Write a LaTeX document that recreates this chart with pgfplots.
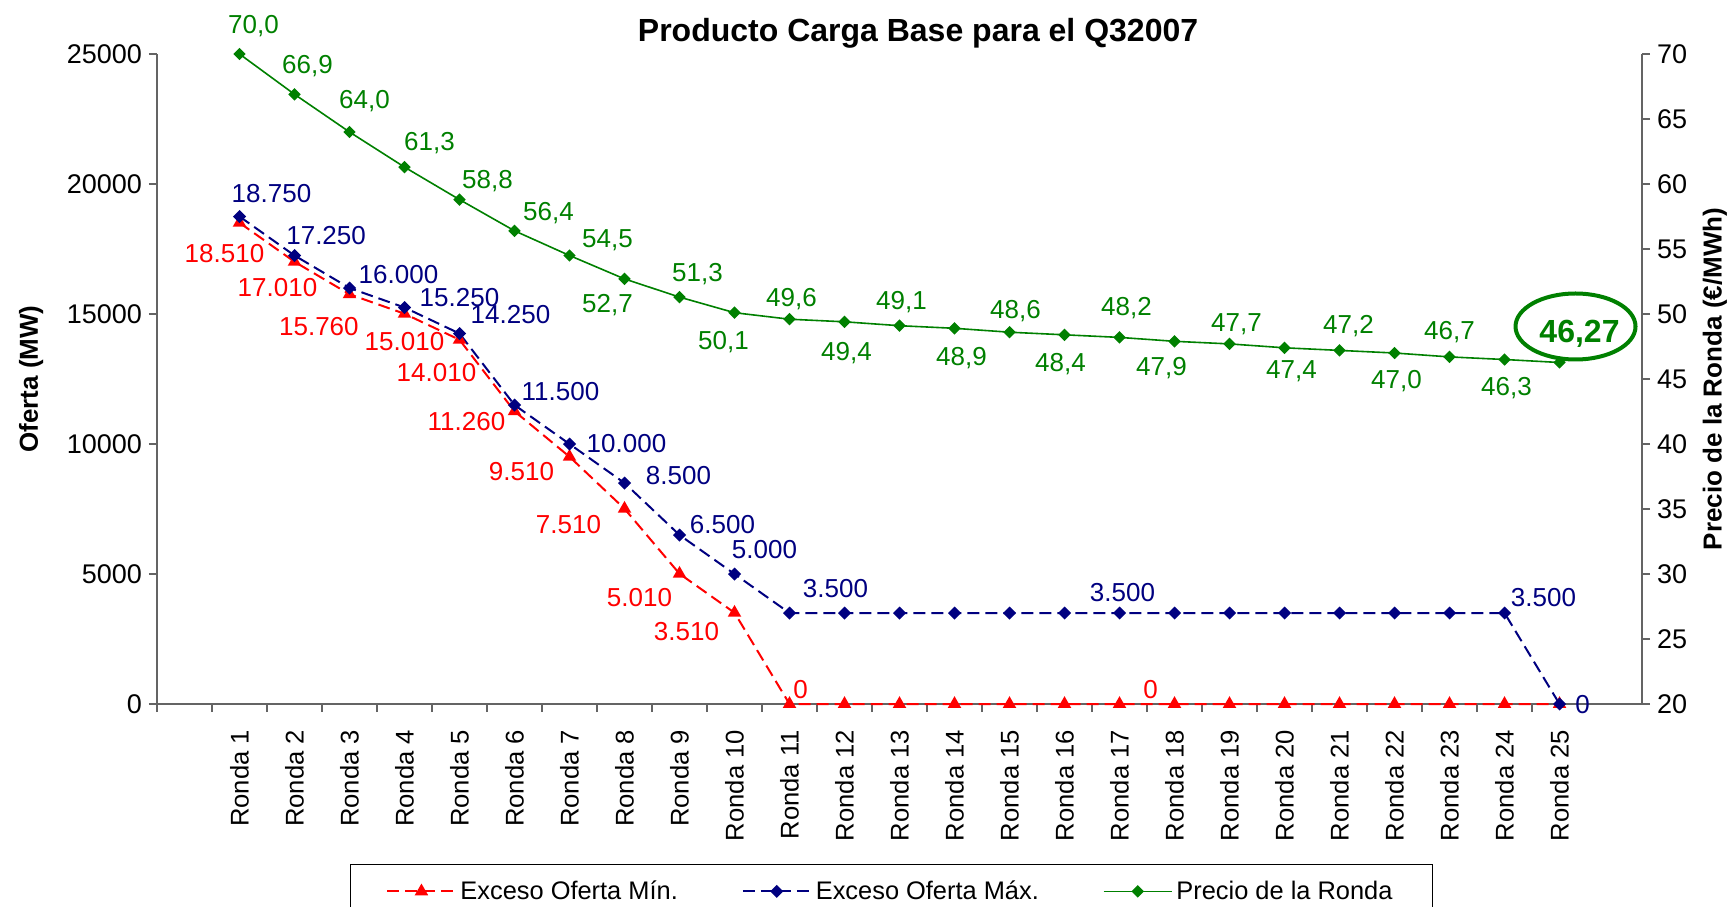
\documentclass[border=0pt]{standalone}
\usepackage{pgfplots}
\pgfplotsset{compat=1.18}
\usepackage{fontspec}
\setmainfont{Liberation Sans}
\definecolor{cred}{RGB}{255,0,0}
\definecolor{cblue}{RGB}{0,0,128}
\definecolor{cgreen}{RGB}{0,128,0}
\definecolor{axgray}{RGB}{100,100,100}
\newcommand{\tickfont}{\fontsize{13.5}{16}\selectfont}
\newcommand{\lblfont}{\fontsize{13}{15}\selectfont}
\newcommand{\lab}[5]{\node[text=#1, xshift=#2pt, yshift=#3pt, font=\lblfont, inner sep=0pt, text depth=0pt] at (axis cs:#4) {#5};}
\pgfplotsset{
 common/.style={
   scale only axis, width=742.5pt, height=325pt,
   xmin=-0.5, xmax=26.5, clip=false,
   axis line style={axgray, line width=0.8pt},
   tick style={axgray, line width=0.8pt},
   tick align=outside,
   major tick length=4pt,
   minor tick length=4pt,
   scaled y ticks=false,
   /pgf/number format/assume math mode=true,
   /pgf/number format/1000 sep={},
   tick label style={font=\tickfont},
 },
 redst/.style={cred, line width=1pt, dash pattern=on 6pt off 3pt, mark=triangle*, mark size=2.9pt, mark options={solid}},
 bluest/.style={cblue, line width=1pt, dash pattern=on 6pt off 3pt, mark=square*, mark size=1.8pt, mark options={solid, rotate=45}},
 greenst/.style={cgreen, line width=0.8pt, mark=square*, mark size=1.8pt, mark options={rotate=45}},
}
\begin{document}
\begin{tikzpicture}
\begin{axis}[common, name=ax1,
  axis y line*=left, axis x line*=bottom,
  ymin=0, ymax=25000, ytick={0,5000,...,25000},
  xtick={1,...,25},
  xticklabels={Ronda 1,Ronda 2,Ronda 3,Ronda 4,Ronda 5,Ronda 6,Ronda 7,Ronda 8,Ronda 9,Ronda 10,Ronda 11,Ronda 12,Ronda 13,Ronda 14,Ronda 15,Ronda 16,Ronda 17,Ronda 18,Ronda 19,Ronda 20,Ronda 21,Ronda 22,Ronda 23,Ronda 24,Ronda 25},
  xticklabel style={rotate=90, anchor=east, font=\fontsize{12.8}{15}\selectfont},
  xticklabel shift=5.5pt,
  major x tick style={draw=none},
  minor xtick={-0.5,0.5,...,24.5},
  ylabel={Oferta (MW)},
  ylabel style={font=\bfseries\fontsize{13}{15}\selectfont, at={(axis description cs:-0.0848,0.5)}, anchor=center},
  title={Producto Carga Base para el Q32007},
  every axis title/.style={font=\bfseries\fontsize{16}{19}\selectfont, at={(axis description cs:0.5125,1.02)}, anchor=base},
]
\addplot[redst] coordinates {
(1,18510) (2,17010) (3,15760) (4,15010) (5,14010) (6,11260) (7,9510) (8,7510) (9,5010) (10,3510)
(11,0) (12,0) (13,0) (14,0) (15,0) (16,0) (17,0) (18,0) (19,0) (20,0) (21,0) (22,0) (23,0) (24,0) (25,0)};
\addplot[bluest] coordinates {
(1,18750) (2,17250) (3,16000) (4,15250) (5,14250) (6,11500) (7,10000) (8,8500) (9,6500) (10,5000)
(11,3500) (12,3500) (13,3500) (14,3500) (15,3500) (16,3500) (17,3500) (18,3500) (19,3500) (20,3500) (21,3500) (22,3500) (23,3500) (24,3500) (25,0)};
% blue labels
\lab{cblue}{16}{11.5}{1,18750}{18.750}
\lab{cblue}{15.8}{10}{2,17250}{17.250}
\lab{cblue}{24.5}{7}{3,16000}{16.000}
\lab{cblue}{27.5}{4.8}{4,15250}{15.250}
\lab{cblue}{25.5}{9.5}{5,14250}{14.250}
\lab{cblue}{23}{7}{6,11500}{11.500}
\lab{cblue}{28.5}{0.5}{7,10000}{10.000}
\lab{cblue}{27}{4}{8,8500}{8.500}
\lab{cblue}{21.5}{5.5}{9,6500}{6.500}
\lab{cblue}{15}{12.5}{10,5000}{5.000}
\lab{cblue}{23}{12.5}{11,3500}{3.500}
\lab{cblue}{1.5}{10.5}{17,3500}{3.500}
\lab{cblue}{19.5}{8}{24,3500}{3.500}
\lab{cblue}{11.5}{0}{25,0}{0}
% red labels
\lab{cred}{-7.5}{-15.5}{1,18510}{18.510}
\lab{cred}{-8.5}{-13}{2,17010}{17.010}
\lab{cred}{-15.3}{-16}{3,15760}{15.760}
\lab{cred}{0}{-13.8}{4,15010}{15.010}
\lab{cred}{-11.5}{-16.5}{5,14010}{14.010}
\lab{cred}{-24}{-5}{6,11260}{11.260}
\lab{cred}{-24}{-7.5}{7,9510}{9.510}
\lab{cred}{-28}{-8}{8,7510}{7.510}
\lab{cred}{-20}{-12}{9,5010}{5.010}
\lab{cred}{-24}{-9.5}{10,3510}{3.510}
\lab{cred}{5.5}{7.5}{11,0}{0}
\lab{cred}{15.5}{7.5}{17,0}{0}
\end{axis}
\begin{axis}[common, name=ax2,
  axis y line*=right, axis x line=none,
  ymin=20, ymax=70, ytick={20,25,...,70},
  ylabel={Precio de la Ronda (€/MWh)},
  ylabel style={font=\bfseries\fontsize{13}{15}\selectfont, at={(axis description cs:1.049,0.5)}, anchor=center},
  legend columns=3,
  legend style={at={(axis description cs:0.4946,-0.246)}, anchor=north, draw=black, line width=0.6pt,
    font=\fontsize{12.7}{15}\selectfont, inner xsep=18pt, inner ysep=6pt,
    /tikz/every even column/.append style={column sep=30pt}},
  legend image code/.code={\draw[mark repeat=2,mark phase=2,#1] plot coordinates {(0pt,0pt) (17pt,0pt) (34pt,0pt)};},
]
\addlegendimage{redst}
\addlegendentry{Exceso Oferta Mín.}
\addlegendimage{bluest}
\addlegendentry{Exceso Oferta Máx.}
\addplot[greenst] coordinates {
(1,70.0) (2,66.9) (3,64.0) (4,61.3) (5,58.8) (6,56.4) (7,54.5) (8,52.7) (9,51.3) (10,50.1)
(11,49.6) (12,49.4) (13,49.1) (14,48.9) (15,48.6) (16,48.4) (17,48.2) (18,47.9) (19,47.7) (20,47.4)
(21,47.2) (22,47.0) (23,46.7) (24,46.5) (25,46.27)};
\addlegendentry{Precio de la Ronda}
\lab{cgreen}{7}{15}{1,70.0}{70,0}
\lab{cgreen}{6.5}{14.8}{2,66.9}{66,9}
\lab{cgreen}{7.5}{16.5}{3,64.0}{64,0}
\lab{cgreen}{12.5}{13}{4,61.3}{61,3}
\lab{cgreen}{14}{10}{5,58.8}{58,8}
\lab{cgreen}{17}{9.5}{6,56.4}{56,4}
\lab{cgreen}{19}{8.5}{7,54.5}{54,5}
\lab{cgreen}{-8.5}{-12.5}{8,52.7}{52,7}
\lab{cgreen}{9}{12.5}{9,51.3}{51,3}
\lab{cgreen}{-5.5}{-14}{10,50.1}{50,1}
\lab{cgreen}{1}{11}{11,49.6}{49,6}
\lab{cgreen}{1}{-15}{12,49.4}{49,4}
\lab{cgreen}{1}{12.5}{13,49.1}{49,1}
\lab{cgreen}{3.5}{-14}{14,48.9}{48,9}
\lab{cgreen}{3}{11.5}{15,48.6}{48,6}
\lab{cgreen}{-2}{-14}{16,48.4}{48,4}
\lab{cgreen}{3.5}{15.5}{17,48.2}{48,2}
\lab{cgreen}{-6.5}{-12.5}{18,47.9}{47,9}
\lab{cgreen}{3.5}{10.5}{19,47.7}{47,7}
\lab{cgreen}{3.5}{-11}{20,47.4}{47,4}
\lab{cgreen}{4.5}{13}{21,47.2}{47,2}
\lab{cgreen}{1}{-13}{22,47.0}{47,0}
\lab{cgreen}{0}{13}{23,46.7}{46,7}
\lab{cgreen}{1}{-13.5}{24,46.5}{46,3}
\node[text=cgreen, xshift=10pt, yshift=15.5pt, font=\bfseries\fontsize{16}{19}\selectfont, inner sep=0pt, text depth=0pt] at (axis cs:25,46.27) {46,27};
\draw[cgreen, line width=2pt] (axis cs:25,46.27) ++(8pt,18pt) ellipse [x radius=30pt, y radius=16.5pt];
\end{axis}
\pgfresetboundingbox
\path[use as bounding box] ([shift={(-78.5pt,-101pt)}]ax1.south west) rectangle ([shift={(788pt,352pt)}]ax1.south west);
\end{tikzpicture}
\end{document}
